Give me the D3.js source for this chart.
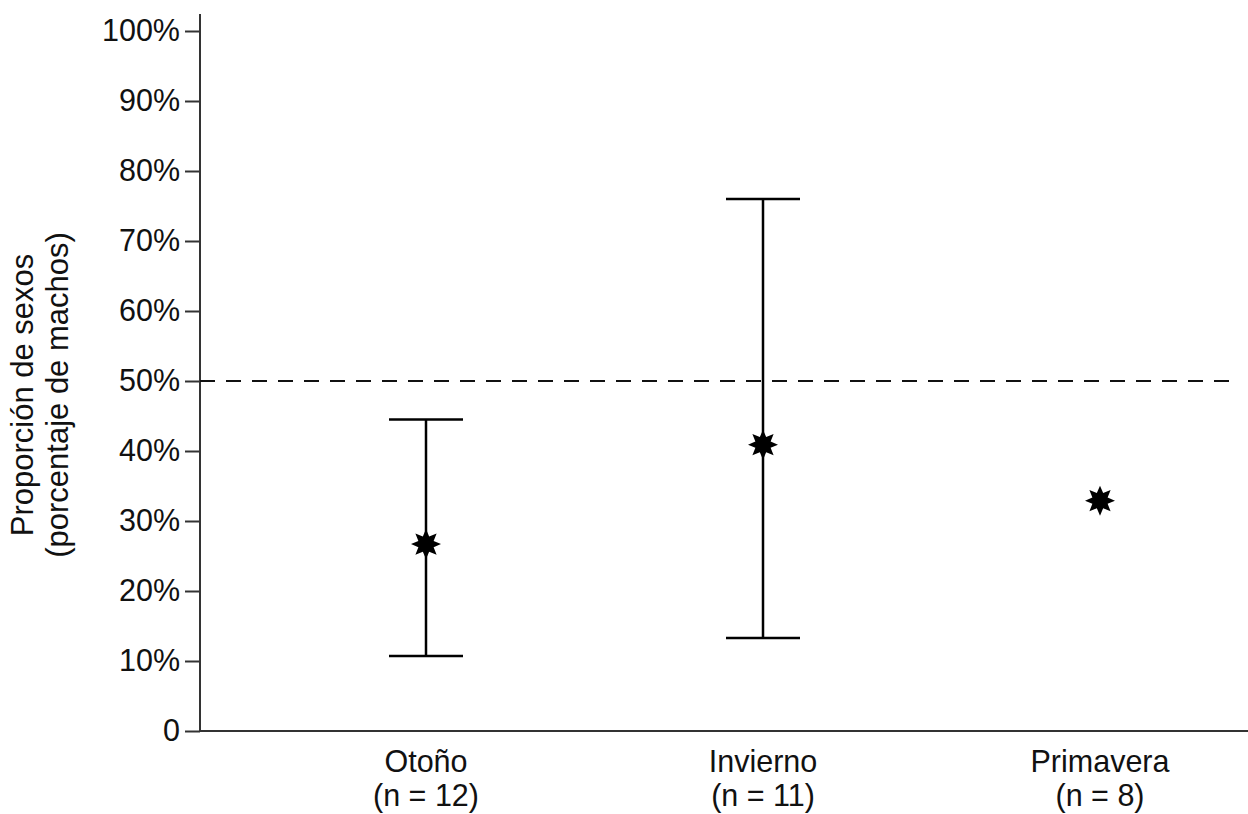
<!DOCTYPE html>
<html>
<head>
<meta charset="utf-8">
<script src="https://cdn.jsdelivr.net/npm/d3@7"></script>
<style>
  body { margin: 0; background: #fff; }
  text { font-family: "Liberation Sans", Arial, sans-serif; fill: #111; }
</style>
</head>
<body>
<div id="chart"></div>
<script>
// seasons and n per season
const seasons = ["Otoño", "Invierno", "Primavera"];
const nLabels = ["(n = 12)", "(n = 11)", "(n = 8)"];
// proportion of males + interval bounds (null = no interval)
const meanValues = [0.267, 0.409, 0.329];
const lowerValues = [0.107, 0.133, null];
const upperValues = [0.445, 0.76, null];
const yTicks = [0, 0.1, 0.2, 0.3, 0.4, 0.5, 0.6, 0.7, 0.8, 0.9, 1.0];
const refLine = 0.5;

var width = 1248, height = 814;
var margin = { top: 31, right: 0, bottom: 83, left: 200 };

var svg = d3.select("#chart").append("svg")
  .attr("width", width)
  .attr("height", height);

var y = d3.scaleLinear()
  .domain([0, 1])
  .range([height - margin.bottom, margin.top]);

var x = d3.scalePoint()
  .domain(seasons)
  .range([426, 1100]);

var data = seasons.map(function (s, i) {
  return { season: s, n: nLabels[i], mean: meanValues[i], lo: lowerValues[i], hi: upperValues[i] };
});

// y axis
var yAxis = d3.axisLeft(y)
  .tickValues(yTicks)
  .tickSize(15)
  .tickPadding(5)
  .tickFormat(function (d) { return d === 0 ? "0" : Math.round(d * 100) + "%"; });

var gy = svg.append("g")
  .attr("transform", "translate(" + margin.left + ",0)")
  .call(yAxis);
gy.select(".domain").remove();
gy.selectAll(".tick line").attr("stroke", "#333").attr("stroke-width", 2);
gy.selectAll(".tick text")
  .style("font-size", "30.5px")
  .style("font-family", "'Liberation Sans', Arial, sans-serif")
  .attr("fill", "#111");

// axis lines
svg.append("line")
  .attr("x1", margin.left).attr("x2", margin.left)
  .attr("y1", 14).attr("y2", y(0) + 1)
  .attr("stroke", "#333").attr("stroke-width", 2);
svg.append("line")
  .attr("x1", margin.left - 1).attr("x2", width)
  .attr("y1", y(0)).attr("y2", y(0))
  .attr("stroke", "#333").attr("stroke-width", 2);

// 50% reference
svg.append("line")
  .attr("x1", margin.left).attr("x2", 1240)
  .attr("y1", y(refLine)).attr("y2", y(refLine))
  .attr("stroke", "#111").attr("stroke-width", 2)
  .attr("stroke-dasharray", "15,11");

// x labels
var xl = svg.append("g").selectAll("g")
  .data(data)
  .enter().append("g")
  .attr("transform", function (d) { return "translate(" + x(d.season) + ",0)"; });
xl.append("text")
  .attr("y", y(0) + 41)
  .attr("text-anchor", "middle")
  .style("font-size", "30.5px")
  .text(function (d) { return d.season; });
xl.append("text")
  .attr("y", y(0) + 75)
  .attr("text-anchor", "middle")
  .style("font-size", "30.5px")
  .text(function (d) { return d.n; });

// y label
var yl = svg.append("text")
  .attr("transform", "translate(33," + y(0.48) + ")rotate(-90)")
  .attr("text-anchor", "middle")
  .style("font-size", "31px");
yl.append("tspan").attr("x", 0).attr("dy", 0).text("Proporción de sexos");
yl.append("tspan").attr("x", 0).attr("dy", 35).text("(porcentaje de machos)");

// error bars
var capHalf = 37;
var bars = svg.append("g").selectAll("g")
  .data(data.filter(function (d) { return d.lo != null; }))
  .enter().append("g");
bars.append("line")
  .attr("x1", function (d) { return x(d.season); })
  .attr("x2", function (d) { return x(d.season); })
  .attr("y1", function (d) { return y(d.lo); })
  .attr("y2", function (d) { return y(d.hi); })
  .attr("stroke", "#000").attr("stroke-width", 2.5);
bars.append("line")
  .attr("x1", function (d) { return x(d.season) - capHalf; })
  .attr("x2", function (d) { return x(d.season) + capHalf; })
  .attr("y1", function (d) { return y(d.hi); })
  .attr("y2", function (d) { return y(d.hi); })
  .attr("stroke", "#000").attr("stroke-width", 2.5);
bars.append("line")
  .attr("x1", function (d) { return x(d.season) - capHalf; })
  .attr("x2", function (d) { return x(d.season) + capHalf; })
  .attr("y1", function (d) { return y(d.lo); })
  .attr("y2", function (d) { return y(d.lo); })
  .attr("stroke", "#000").attr("stroke-width", 2.5);

// 8 point star marker
var star8 = {
  draw: function (context, size) {
    var r = Math.sqrt(size), ri = r * 0.55;
    for (var i = 0; i < 16; i++) {
      var a = i * Math.PI / 8 - Math.PI / 2;
      var rr = i % 2 ? ri : r;
      if (i === 0) context.moveTo(rr * Math.cos(a), rr * Math.sin(a));
      else context.lineTo(rr * Math.cos(a), rr * Math.sin(a));
    }
    context.closePath();
  }
};

svg.append("g").selectAll("path")
  .data(data)
  .enter().append("path")
  .attr("transform", function (d) { return "translate(" + x(d.season) + "," + y(d.mean) + ")"; })
  .attr("d", d3.symbol().type(star8).size(225))
  .attr("fill", "#000");
</script>
</body>
</html>
